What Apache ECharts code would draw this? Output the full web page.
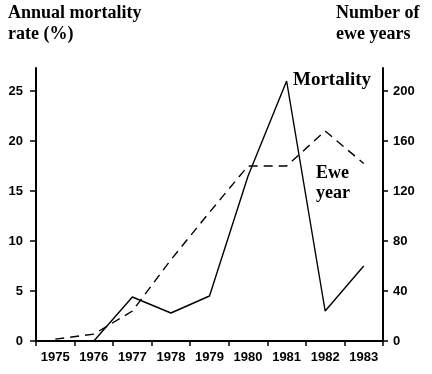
<!DOCTYPE html>
<html>
<head>
<meta charset="utf-8">
<script src="https://cdn.jsdelivr.net/npm/echarts@6/dist/echarts.min.js"></script>
<style>html,body{margin:0;padding:0;background:#fff}#c{width:432px;height:374px}</style>
</head>
<body>
<div id="c"></div>
<script>
const years = ['1975','1976','1977','1978','1979','1980','1981','1982','1983'];
const mortality = [0, 0, 4.4, 2.8, 4.5, 16.5, 26, 3.0, 7.5];
const eweYears = [1.5, 5.5, 24, 65, 103, 140, 140, 168, 142];
const leftTicks = [0, 5, 10, 15, 20, 25];
const rightTicks = [0, 40, 80, 120, 160, 200];

const chart = echarts.init(document.getElementById('c'));
const tickFont = {fontFamily: 'Liberation Sans', fontSize: 13, fontWeight: 'bold', color: '#000'};
chart.setOption({
  animation: false,
  backgroundColor: '#fff',
  grid: {left: 36, right: 49, top: 68, bottom: 33},
  xAxis: {
    type: 'category', data: years, boundaryGap: true,
    axisLine: {lineStyle: {color: '#000', width: 2}},
    axisTick: {show: true, length: 5, lineStyle: {color: '#000', width: 1.5}},
    axisLabel: Object.assign({margin: 10}, tickFont),
    splitLine: {show: false}
  },
  yAxis: [{
    type: 'value', min: 0, max: 27.3, position: 'left',
    axisLine: {show: true, onZero: false, lineStyle: {color: '#000', width: 2}},
    axisTick: {show: true, length: 6, customValues: leftTicks, lineStyle: {color: '#000', width: 1.5}},
    axisLabel: Object.assign({margin: 13, customValues: leftTicks}, tickFont),
    splitLine: {show: false}
  }, {
    type: 'value', min: 0, max: 218.4, position: 'right',
    axisLine: {show: true, onZero: false, lineStyle: {color: '#000', width: 2}},
    axisTick: {show: true, length: 5, customValues: rightTicks, lineStyle: {color: '#000', width: 1.5}},
    axisLabel: Object.assign({margin: 10, customValues: rightTicks}, tickFont),
    splitLine: {show: false}
  }],
  series: [{
    name: 'Mortality', type: 'line', yAxisIndex: 0, data: mortality,
    symbol: 'none', lineStyle: {color: '#000', width: 1.4}
  }, {
    name: 'Ewe year', type: 'line', yAxisIndex: 1, data: eweYears,
    symbol: 'none', lineStyle: {color: '#000', width: 1.4, type: [9, 6]}
  }],
  graphic: [
    {type: 'text', left: 8, top: 3, style: {text: 'Annual mortality\nrate (%)', font: 'bold 18px "Liberation Serif"', lineHeight: 21, fill: '#000'}},
    {type: 'text', left: 336, top: 3, style: {text: 'Number of\newe years', font: 'bold 18px "Liberation Serif"', lineHeight: 21, fill: '#000'}},
    {type: 'text', left: 293, top: 71, style: {text: 'Mortality', font: 'bold 19px "Liberation Serif"', fill: '#000'}},
    {type: 'text', left: 316, top: 163, style: {text: 'Ewe\nyear', font: 'bold 18px "Liberation Serif"', lineHeight: 20, fill: '#000'}}
  ]
});
</script>
</body>
</html>
